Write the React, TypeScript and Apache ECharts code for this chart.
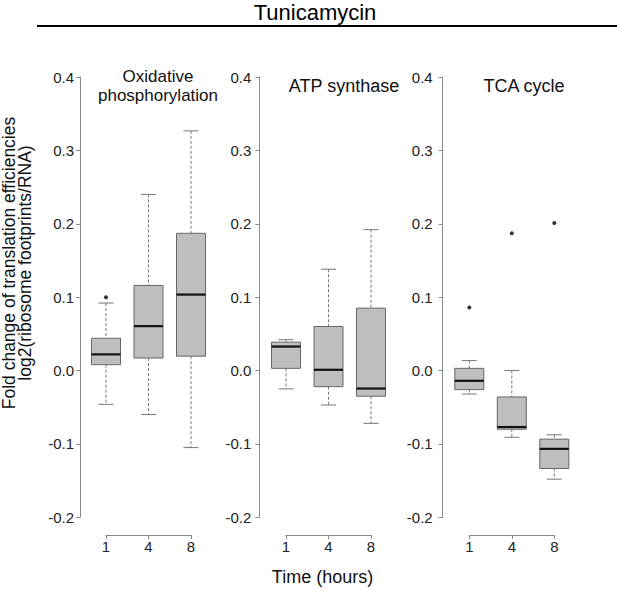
import React, { useEffect, useRef } from "react";
import * as echarts from "echarts";

const timepoints = ["1", "4", "8"];
const panelTitles = [["Oxidative", "phosphorylation"], ["ATP synthase"], ["TCA cycle"]];

// [low whisker, Q1, median, Q3, high whisker]
const oxphosBoxes = [
  [-0.046, 0.008, 0.022, 0.044, 0.092],
  [-0.060, 0.017, 0.0605, 0.116, 0.240],
  [-0.105, 0.0196, 0.1035, 0.187, 0.3266],
];
const atpBoxes = [
  [-0.025, 0.003, 0.0327, 0.0387, 0.042],
  [-0.047, -0.022, 0.001, 0.060, 0.138],
  [-0.072, -0.035, -0.0245, 0.085, 0.192],
];
const tcaBoxes = [
  [-0.032, -0.026, -0.014, 0.003, 0.0136],
  [-0.091, -0.080, -0.077, -0.036, 0.0],
  [-0.148, -0.1335, -0.1067, -0.0935, -0.0876],
];
// [time index, value]
const oxphosOutliers = [[0, 0.100]];
const atpOutliers: number[][] = [];
const tcaOutliers = [[0, 0.086], [1, 0.187], [2, 0.201]];

const FONT = "'Liberation Sans', Arial, sans-serif";

export default function App() {
  const ref = useRef<HTMLDivElement>(null);
  useEffect(() => {
    document.body.style.margin = "0";
    const chart = echarts.init(ref.current!, null, { renderer: "svg" });
    const boxes = [oxphosBoxes, atpBoxes, tcaBoxes];
    const outliers = [oxphosOutliers, atpOutliers, tcaOutliers];
    const gridLefts = [106, 286, 469.3];
    const yOffsets = [26, 26.7, 26.6];
    const labelMargins = [6, 8, 10];
    const titleX = [158, 344, 524];

    const grids = gridLefts.map((l) => ({ left: l, width: 85, top: 77, height: 440.3 }));
    const xAxes = gridLefts.map((_, i) => ({
      type: "category",
      gridIndex: i,
      data: timepoints,
      boundaryGap: false,
      offset: 17.7,
      axisLine: { onZero: false, lineStyle: { color: "#8a8a8a", width: 1 } },
      axisTick: { length: 4, lineStyle: { color: "#8a8a8a" } },
      axisLabel: { fontSize: 15, color: "#222", margin: 4, fontFamily: FONT, interval: 0 },
      splitLine: { show: false },
    }));
    const yAxes = gridLefts.map((_, i) => ({
      type: "value",
      gridIndex: i,
      min: -0.2,
      max: 0.4,
      interval: 0.1,
      offset: yOffsets[i],
      axisLine: { show: true, onZero: false, lineStyle: { color: "#8a8a8a", width: 1 } },
      axisTick: { show: true, length: 4, lineStyle: { color: "#8a8a8a" } },
      axisLabel: {
        fontSize: 15,
        color: "#222",
        margin: labelMargins[i],
        fontFamily: FONT,
        formatter: (v: number) => (Math.abs(v) < 1e-9 ? "0.0" : v.toFixed(1)),
      },
      splitLine: { show: false },
    }));

    const series: any[] = [];
    boxes.forEach((b, i) => {
      series.push({
        type: "custom",
        xAxisIndex: i,
        yAxisIndex: i,
        data: b.map((d, k) => [k, ...d]),
        renderItem: (params: any, api: any) => {
          const x = api.value(0);
          const pLo = api.coord([x, api.value(1)]);
          const pQ1 = api.coord([x, api.value(2)]);
          const pMed = api.coord([x, api.value(3)]);
          const pQ3 = api.coord([x, api.value(4)]);
          const pHi = api.coord([x, api.value(5)]);
          const cx = pLo[0];
          const hw = 14.5;
          const cw = 7.5;
          const wStyle = { stroke: "#777", lineWidth: 1, lineDash: [3, 2] };
          const cStyle = { stroke: "#777", lineWidth: 1 };
          return {
            type: "group",
            children: [
              { type: "line", shape: { x1: cx, y1: pHi[1], x2: cx, y2: pQ3[1] }, style: wStyle },
              { type: "line", shape: { x1: cx, y1: pQ1[1], x2: cx, y2: pLo[1] }, style: wStyle },
              { type: "line", shape: { x1: cx - cw, y1: pHi[1], x2: cx + cw, y2: pHi[1] }, style: cStyle },
              { type: "line", shape: { x1: cx - cw, y1: pLo[1], x2: cx + cw, y2: pLo[1] }, style: cStyle },
              {
                type: "rect",
                shape: { x: cx - hw, y: pQ3[1], width: hw * 2, height: pQ1[1] - pQ3[1] },
                style: { fill: "#bebebe", stroke: "#666", lineWidth: 1 },
              },
              {
                type: "line",
                shape: { x1: cx - hw, y1: pMed[1], x2: cx + hw, y2: pMed[1] },
                style: { stroke: "#111", lineWidth: 2.2 },
              },
            ],
          };
        },
      });
      series.push({
        type: "scatter",
        xAxisIndex: i,
        yAxisIndex: i,
        data: outliers[i],
        symbol: "circle",
        symbolSize: 4,
        itemStyle: { color: "#000" },
      });
    });

    const titleTexts: any[] = [];
    panelTitles.forEach((lines, i) => {
      lines.forEach((t, j) => {
        const y = lines.length === 1 ? 86 : j === 0 ? 76 : 95;
        titleTexts.push({
          type: "text",
          x: titleX[i],
          y,
          style: { text: t, fontSize: lines.length === 1 ? 18 : 17, fontFamily: FONT, fill: "#111", align: "center", verticalAlign: "middle" },
        });
      });
    });

    const graphic: any[] = [
      {
        type: "text",
        x: 315,
        y: 12,
        style: { text: "Tunicamycin", fontSize: 22, fontFamily: FONT, fill: "#000", align: "center", verticalAlign: "middle" },
      },
      { type: "line", shape: { x1: 37, y1: 26, x2: 617, y2: 26 }, style: { stroke: "#000", lineWidth: 2 } },
      {
        type: "text",
        x: 322.5,
        y: 577,
        style: { text: "Time (hours)", fontSize: 18, fontFamily: FONT, fill: "#111", align: "center", verticalAlign: "middle" },
      },
      {
        type: "text",
        x: 17,
        y: 263,
        rotation: Math.PI / 2,
        style: {
          text: "Fold change of translation efficiencies\nlog2(ribosome footprints/RNA)",
          fontSize: 17.5,
          lineHeight: 16,
          fontFamily: FONT,
          fill: "#111",
          align: "center",
          verticalAlign: "middle",
        },
      },
      ...titleTexts,
    ];

    chart.setOption({
      animation: false,
      backgroundColor: "#fff",
      grid: grids,
      xAxis: xAxes,
      yAxis: yAxes,
      series,
      graphic,
    });
    return () => chart.dispose();
  }, []);
  return <div ref={ref} style={{ width: 617, height: 591 }} />;
}
